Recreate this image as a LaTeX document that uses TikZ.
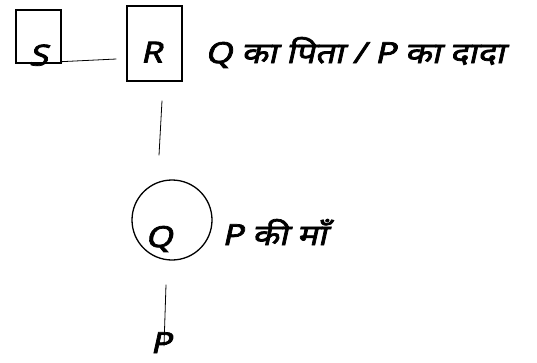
\documentclass[tikz,border=0pt]{standalone}
\usepackage{fontspec}
\newfontfamily\hindi[Script=Devanagari,FakeSlant=0.22,FakeBold=2.5,FakeStretch=1.2]{Noto Sans}
\usepackage{tikz}
\newcommand{\inmember}[3]{\raisebox{#2}[0pt][0pt]{\makebox[0pt]{\hspace*{#1}#3}}}

\begin{document}
\begin{tikzpicture}
                [x=1pt,y=-1pt,
                every node/.style={font=\hindi\fontsize{29}{32}\selectfont,inner sep=0pt},
                member/.style={draw,line width=1.3pt},
                link/.style={line width=0.8pt}]
                \useasboundingbox (0,0) rectangle (537,362);
                \node[member,minimum width=45pt,minimum height=53pt] (S) at (38.5,36.5) {\inmember{0pt}{-29pt}{S}};
                \node[member,minimum width=55pt,minimum height=75pt] (R) at (154.5,43.5) {\inmember{-6pt}{-19pt}{R}};
                \node[member,circle,minimum size=80pt] (Q) at (172,220) {\inmember{-26pt}{-27pt}{Q}};
                \node[anchor=base] (P) at (161,353) {P};
                \node[anchor=base west] (rlabel) at (205,63) {Q का पिता / P का दादा};
                \node[anchor=base west] (qlabel) at (222,245) {P की माँ};
                \draw[link] ([yshift=2pt]S.south east) -- ([xshift=-10pt,yshift=-15.5pt]R.west);
                \draw[link] ([xshift=7.5pt,yshift=-19pt]R.south) -- ([xshift=-13pt,yshift=24pt]Q.north);
                \draw[link] ([xshift=-6pt,yshift=-24pt]Q.south) -- ([xshift=3pt,yshift=7pt]P.base);
            \end{tikzpicture}
\end{document}
